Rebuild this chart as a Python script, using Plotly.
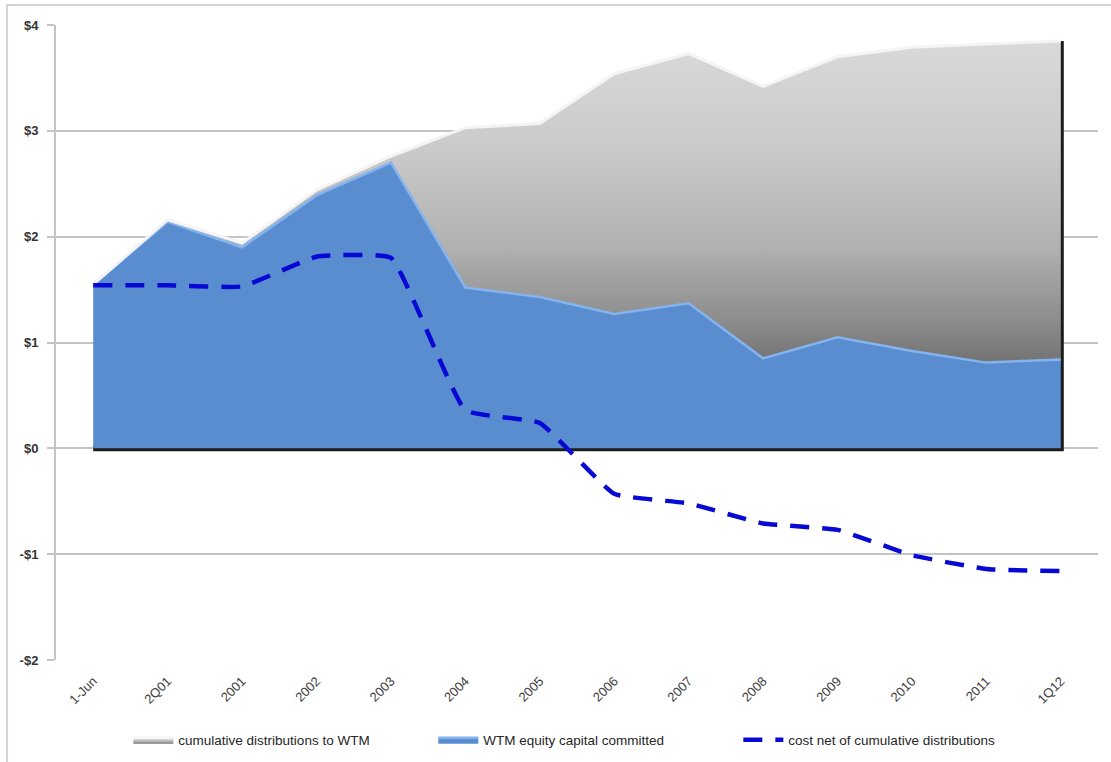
import plotly.graph_objects as go

# Periods on the category axis
categories = ["1-Jun", "2Q01", "2001", "2002", "2003", "2004", "2005",
              "2006", "2007", "2008", "2009", "2010", "2011", "1Q12"]

# WTM equity capital committed ($ billions)
equity_committed = [1.55, 2.14, 1.90, 2.39, 2.70, 1.52, 1.43,
                    1.27, 1.37, 0.85, 1.05, 0.92, 0.81, 0.84]

# Cumulative distributions to WTM, stacked on top of committed capital
cumulative_dist = [0.00, 0.02, 0.04, 0.05, 0.06, 1.51, 1.64,
                   2.27, 2.36, 2.57, 2.65, 2.87, 3.01, 3.01]

# Cost net of cumulative distributions
cost_net = [1.54, 1.54, 1.53, 1.81, 1.80, 0.36, 0.24,
            -0.43, -0.52, -0.71, -0.77, -1.01, -1.14, -1.16]

y_ticks = [-2, -1, 0, 1, 2, 3, 4]
y_tick_labels = ["-$2", "-$1", "$0", "$1", "$2", "$3", "$4"]

stack_top = [a + b for a, b in zip(equity_committed, cumulative_dist)]

FONT = "Liberation Sans"

fig = go.Figure()

# Drop shadow along the base and right edge of the stacked areas
fig.add_trace(go.Scatter(
    x=[categories[0], categories[-1], categories[-1]],
    y=[0, 0, stack_top[-1]],
    mode="lines",
    line=dict(color="#1c1c1c", width=6),
    showlegend=False,
    hoverinfo="skip",
))

fig.add_trace(go.Scatter(
    x=categories,
    y=equity_committed,
    name="WTM equity capital committed",
    mode="lines",
    fill="tozeroy",
    fillcolor="#5a8dd0",
    line=dict(color="#84b4ee", width=2.5),
    legendrank=2,
))

fig.add_trace(go.Scatter(
    x=categories,
    y=stack_top,
    name="cumulative distributions to WTM",
    mode="lines",
    fill="tonexty",
    fillgradient=dict(
        type="vertical",
        start=0.8,
        stop=3.9,
        colorscale=[[0, "#727272"], [0.13, "#8c8c8c"], [0.35, "#b0b0b0"],
                    [0.65, "#cacaca"], [1, "#dadada"]],
    ),
    line=dict(color="#f4f4f4", width=3),
    legendrank=1,
))

fig.add_trace(go.Scatter(
    x=categories,
    y=cost_net,
    name="cost net of cumulative distributions",
    mode="lines",
    line=dict(color="#0808d4", width=4.5, dash="19px,13px",
              shape="spline", smoothing=0.35),
    legendrank=3,
))

fig.update_layout(
    width=1111,
    height=762,
    margin=dict(l=56, r=13, t=25, b=102),
    paper_bgcolor="white",
    plot_bgcolor="white",
    font=dict(family=FONT, color="#404040", size=12),
    showlegend=True,
    legend=dict(
        orientation="h",
        xref="container", yref="container",
        x=0.1155, xanchor="left",
        y=0.029, yanchor="middle",
        font=dict(family=FONT, size=13.5, color="#262626"),
        entrywidth=250,
        itemwidth=40,
        traceorder="normal",
    ),
    shapes=[dict(
        type="rect", xref="paper", yref="paper",
        x0=-0.047, x1=1.03, y0=-0.2, y1=1.0315,
        line=dict(color="#d4d4d4", width=2),
        layer="below",
    )],
)

fig.update_xaxes(
    type="category",
    categoryorder="array",
    categoryarray=categories,
    range=[-0.5, len(categories) - 0.5],
    showgrid=False,
    showline=False,
    ticks="",
    tickangle=-45,
    ticklabelstandoff=10,
    tickfont=dict(family=FONT, size=13, color="#404040"),
    zeroline=False,
    automargin=False,
)

fig.update_yaxes(
    range=[-2, 4],
    tickvals=y_ticks,
    ticktext=y_tick_labels,
    showgrid=True,
    gridcolor="#c4c4c4",
    gridwidth=1.5,
    showline=True,
    linecolor="#c4c4c4",
    linewidth=2,
    ticks="outside",
    ticklen=7,
    tickcolor="#c4c4c4",
    tickwidth=1.5,
    ticklabelstandoff=6,
    tickfont=dict(family=FONT, size=13, color="#333333", weight="bold"),
    zeroline=False,
    automargin=False,
)

fig.write_html("out.html")
